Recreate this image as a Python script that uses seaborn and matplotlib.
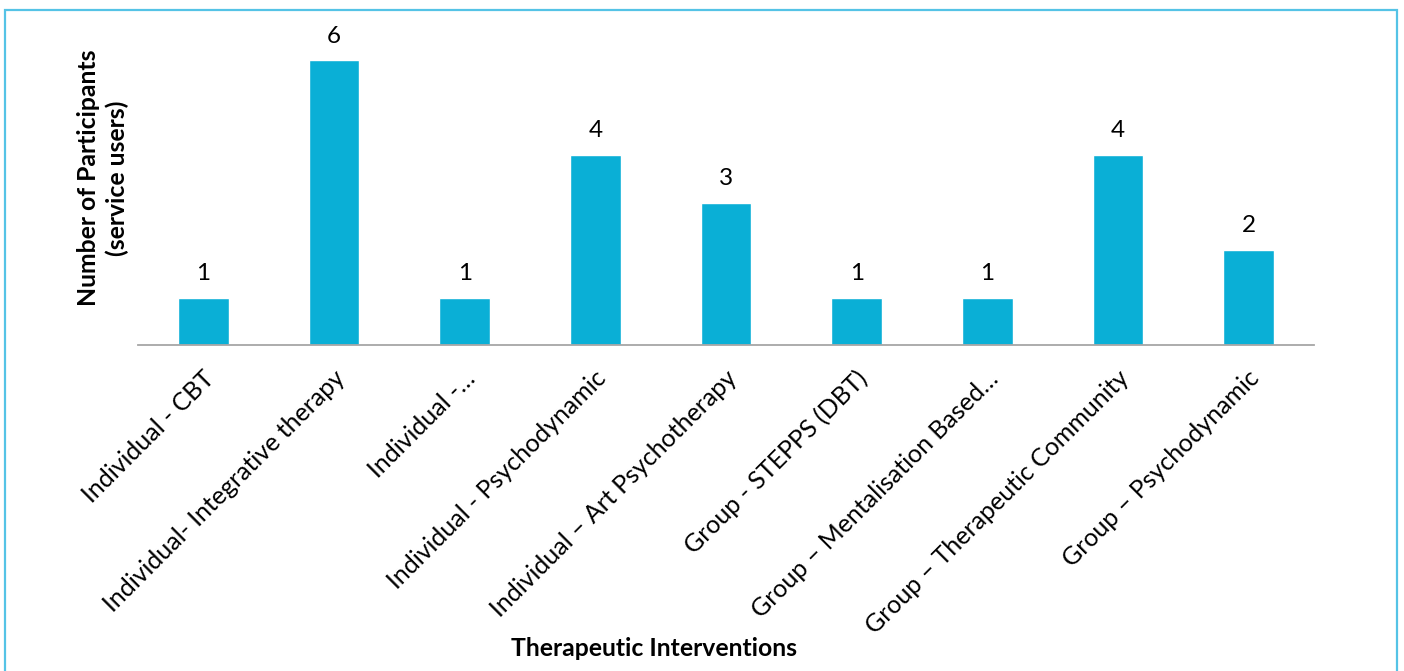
import matplotlib
matplotlib.use("Agg")
import matplotlib.pyplot as plt
import matplotlib.patches as mpatches
import matplotlib.transforms as mtransforms
import seaborn as sns
import pandas as pd

categories = [
    "Individual - CBT",
    "Individual- Integrative therapy",
    "Individual -…",
    "Individual - Psychodynamic",
    "Individual – Art Psychotherapy",
    "Group - STEPPS (DBT)",
    "Group – Mentalisation Based…",
    "Group – Therapeutic Community",
    "Group – Psychodynamic",
]
participants = [1, 6, 1, 4, 3, 1, 1, 4, 2]

sns.set_theme(style="white")
plt.rcParams["font.family"] = ["Lato", "DejaVu Sans"]

df = pd.DataFrame({"Intervention": categories, "Participants": participants})

W, H = 1404, 671
fig = plt.figure(figsize=(W / 100, H / 100), dpi=100)
ax = fig.add_axes([138 / W, 1 - 345 / H, (1314 - 138) / W, (345 - 13) / H])

sns.barplot(data=df, x="Intervention", y="Participants", color="#0AAFD6",
            width=0.39, saturation=1, ax=ax)

ax.set_ylim(0, 7)
ax.set_xlim(-0.5, len(categories) - 0.5)
for s in ["top", "right", "left"]:
    ax.spines[s].set_visible(False)
ax.spines["bottom"].set_color("#A6A6A6")
ax.spines["bottom"].set_linewidth(1.3)
ax.set_yticks([])
ax.tick_params(axis="x", length=0, pad=12)

for i, v in enumerate(participants):
    ax.annotate(str(v), (i, v), xytext=(0, 10), textcoords="offset points",
                ha="center", va="bottom", fontsize=17.5, color="black")

ax.set_xticks(range(len(categories)))
ax.set_xticklabels(categories, rotation=45, ha="right", va="center",
                   rotation_mode="anchor", fontsize=18, color="black")
shift = mtransforms.ScaledTranslation(7 / 100, -13 / 100, fig.dpi_scale_trans)
for lbl in ax.get_xticklabels():
    lbl.set_transform(lbl.get_transform() + shift)

ax.set_xlabel("")
ax.set_ylabel("")
fig.text(654 / W, 1 - 648 / H, "Therapeutic Interventions", ha="center", va="center",
         fontsize=17.8, fontweight="bold", color="black")
fig.text(103 / W, 1 - 178 / H, "Number of Participants\n(service users)", ha="center",
         va="center", rotation=90, fontsize=17.8, fontweight="bold", color="black",
         linespacing=1.3)

border = mpatches.Rectangle((5 / W, -0.05), (1397 - 5) / W, 1.05 - 10 / H,
                            transform=fig.transFigure, fill=False,
                            edgecolor="#55C3E6", linewidth=1.6)
fig.patches.append(border)

fig.savefig("out.png", dpi=100)
